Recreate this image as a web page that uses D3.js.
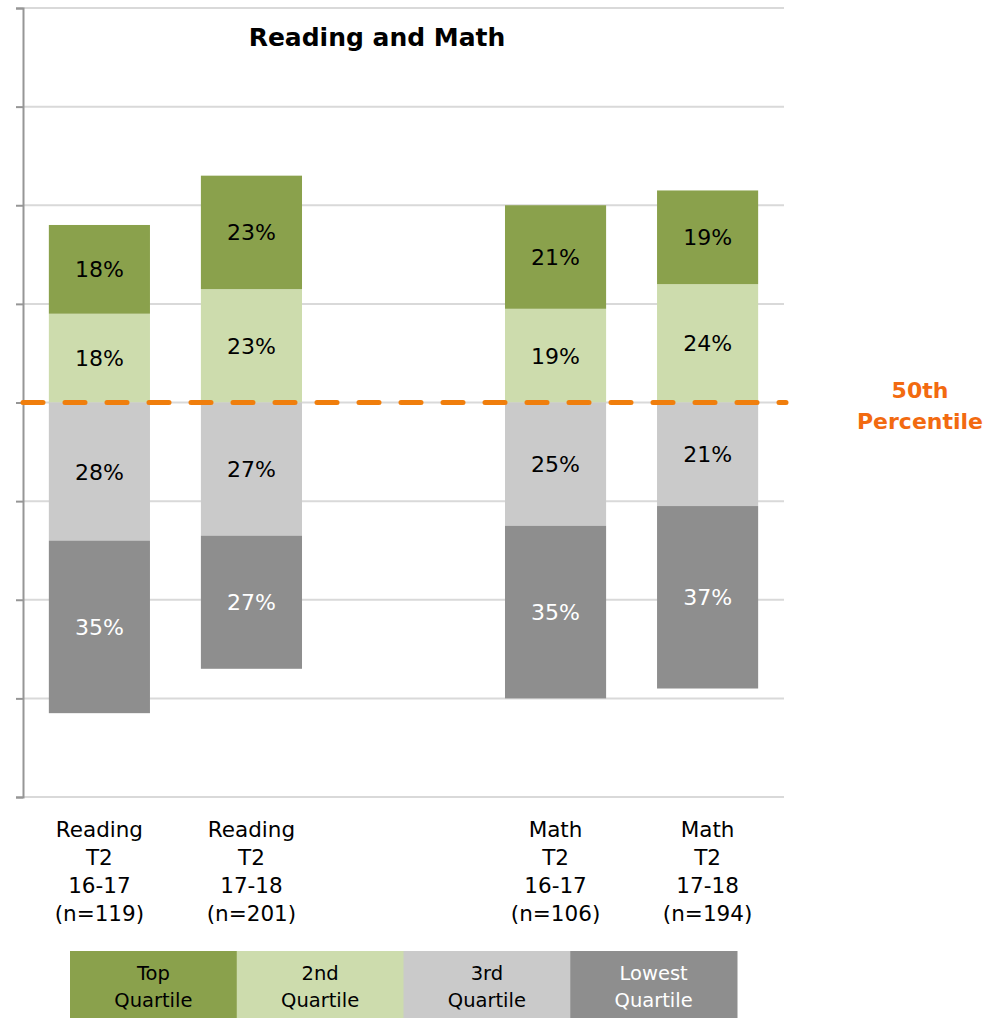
<!DOCTYPE html>
<html><head><meta charset="utf-8">
<script src="https://cdn.jsdelivr.net/npm/d3@7"></script>
<style>body{margin:0;background:#fff}svg{display:block}text{font-family:"DejaVu Sans",sans-serif}</style>
</head><body>
<svg id="c" width="986" height="1018"></svg>
<script>
const categories = [
  ["Reading","T2","16-17","(n=119)"],
  ["Reading","T2","17-18","(n=201)"],
  null,
  ["Math","T2","16-17","(n=106)"],
  ["Math","T2","17-18","(n=194)"]
];
const topQ    = [18, 23, null, 21, 19];
const secondQ = [18, 23, null, 19, 24];
const thirdQ  = [28, 27, null, 25, 21];
const lowestQ = [35, 27, null, 35, 37];
const seriesNames = ["Top Quartile","2nd Quartile","3rd Quartile","Lowest Quartile"];
const legendLines = [["Top","Quartile"],["2nd","Quartile"],["3rd","Quartile"],["Lowest","Quartile"]];
const colors = ["#8aa14c","#cddcad","#cacaca","#8e8e8e"];
const textColors = ["#000","#000","#000","#fff"];
const yTicks = [-80,-60,-40,-20,0,20,40,60,80];

const svg = d3.select("#c");
const L = 23, R = 784, T = 8, B = 797;
const x = d3.scaleBand().domain(d3.range(categories.length)).range([L, R]).paddingInner(0.335).paddingOuter(0.17);
const y = d3.scaleLinear().domain([-80, 80]).range([B, T]);

// gridlines
svg.append("g").selectAll("line").data(yTicks).join("line")
  .attr("x1", L).attr("x2", R).attr("y1", d => y(d)).attr("y2", d => y(d))
  .attr("stroke", "#d9d9d9").attr("stroke-width", 2);

// axis
const ax = svg.append("g").attr("transform", `translate(${L},0)`)
  .call(d3.axisLeft(y).tickValues(yTicks).tickSize(7).tickFormat(""));
ax.select(".domain").attr("stroke", "#969696").attr("stroke-width", 2);
ax.selectAll(".tick line").attr("stroke", "#969696").attr("stroke-width", 2);

// segments
const segs = [];
categories.forEach((c, i) => {
  if (!c) return;
  segs.push({i, s: 1, y0: 0, y1: secondQ[i], v: secondQ[i]});
  segs.push({i, s: 0, y0: secondQ[i], y1: secondQ[i] + topQ[i], v: topQ[i]});
  segs.push({i, s: 2, y0: 0, y1: -thirdQ[i], v: thirdQ[i]});
  segs.push({i, s: 3, y0: -thirdQ[i], y1: -(thirdQ[i] + lowestQ[i]), v: lowestQ[i]});
});
svg.append("g").selectAll("rect").data(segs).join("rect")
  .attr("x", d => x(d.i)).attr("width", x.bandwidth())
  .attr("y", d => y(Math.max(d.y0, d.y1)))
  .attr("height", d => Math.abs(y(d.y0) - y(d.y1)))
  .attr("fill", d => colors[d.s]);
svg.append("g").selectAll("text").data(segs).join("text")
  .attr("x", d => x(d.i) + x.bandwidth() / 2)
  .attr("y", d => y((d.y0 + d.y1) / 2) + 2)
  .attr("text-anchor", "middle").attr("dominant-baseline", "middle")
  .attr("font-size", 22).attr("fill", d => textColors[d.s])
  .text(d => d.v + "%");

// 50th percentile line
svg.append("line").attr("x1", L).attr("x2", R + 2).attr("y1", y(0)).attr("y2", y(0))
  .attr("stroke", "#f07e0c").attr("stroke-width", 5).attr("stroke-linecap", "round")
  .attr("stroke-dasharray", "20,22");
svg.append("text").attr("x", 920).attr("y", 398).attr("text-anchor", "middle")
  .attr("font-weight", "bold").attr("font-size", 22).attr("fill", "#f26a10").text("50th");
svg.append("text").attr("x", 920).attr("y", 429).attr("text-anchor", "middle")
  .attr("font-weight", "bold").attr("font-size", 22).attr("fill", "#f26a10").text("Percentile");

// title
svg.append("text").attr("x", 377).attr("y", 46).attr("text-anchor", "middle")
  .attr("font-weight", "bold").attr("font-size", 25).text("Reading and Math");

// category labels
categories.forEach((c, i) => {
  if (!c) return;
  c.forEach((ln, k) => {
    svg.append("text").attr("x", x(i) + x.bandwidth() / 2).attr("y", 837 + k * 28)
      .attr("text-anchor", "middle").attr("font-size", 21.5).attr("fill", "#000").text(ln);
  });
});

// legend
const lx = d3.scaleBand().domain(seriesNames).range([70, 737]);
const lg = svg.append("g").selectAll("g").data(seriesNames).join("g");
lg.append("rect").attr("x", d => lx(d)).attr("y", 951).attr("width", lx.bandwidth() + 0.5).attr("height", 67)
  .attr("fill", (d, i) => colors[i]);
lg.each(function(d, i) {
  legendLines[i].forEach((ln, k) => {
    d3.select(this).append("text").attr("x", lx(d) + lx.bandwidth() / 2).attr("y", 980 + k * 27)
      .attr("text-anchor", "middle").attr("font-size", 19.5).attr("fill", textColors[i]).text(ln);
  });
});
</script>
</body></html>
